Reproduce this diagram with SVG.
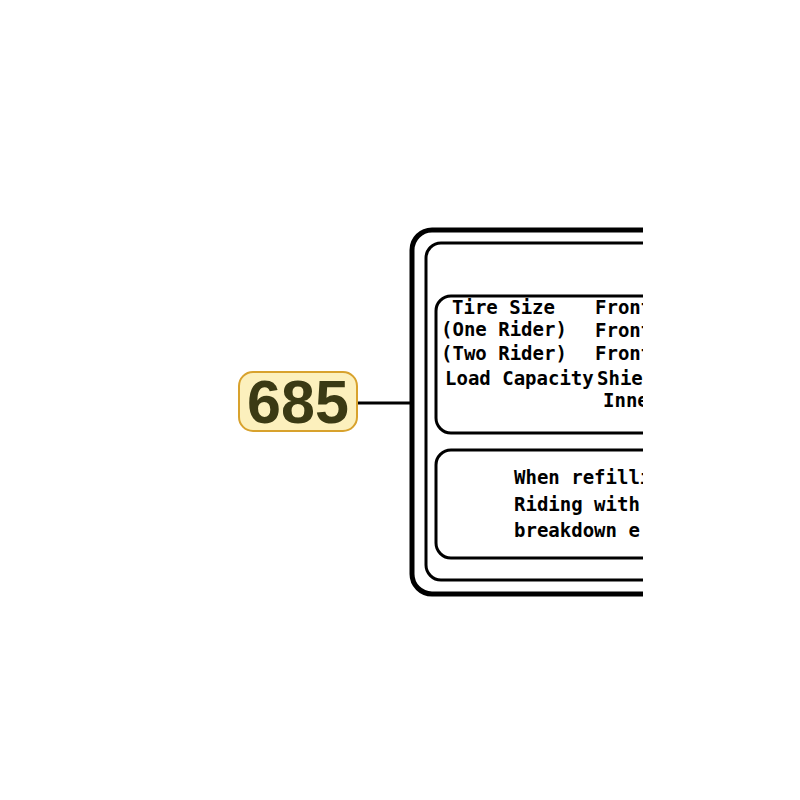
<svg xmlns="http://www.w3.org/2000/svg" width="800" height="800" viewBox="0 0 800 800">
<style>
.t{font-family:"DejaVu Sans Mono","Liberation Mono",monospace;font-size:19px;font-weight:bold;fill:#000}
.f{fill:none;stroke:#000}
</style>
<defs><clipPath id="c"><rect x="0" y="0" width="643" height="800"/></clipPath></defs>
<rect width="800" height="800" fill="#fff"/>
<g id="connectors"><line x1="358" y1="403" x2="411" y2="403" stroke="#000" stroke-width="3"/></g>
<g id="label" clip-path="url(#c)">
<rect class="f" x="412" y="230" width="400" height="364" rx="20" stroke-width="5"/>
<rect class="f" x="426" y="243" width="380" height="337" rx="15" stroke-width="3"/>
<rect class="f" x="436" y="296" width="360" height="137" rx="15" stroke-width="3"/>
<rect class="f" x="436" y="450" width="360" height="108" rx="15" stroke-width="3"/>
<text class="t" x="452" y="314">Tire Size</text>
<text class="t" x="441" y="336">(One Rider)</text>
<text class="t" x="441" y="360">(Two Rider)</text>
<text class="t" x="445" y="385">Load Capacity</text>
<text class="t" x="595" y="314">Front</text>
<text class="t" x="595" y="337">Front</text>
<text class="t" x="595" y="360">Front</text>
<text class="t" x="597" y="385">Shield</text>
<text class="t" x="603" y="407">Inner</text>
<text class="t" x="514" y="484">When refilling</text>
<text class="t" x="514" y="511">Riding with t</text>
<text class="t" x="514" y="537">breakdown e</text>
</g>
<g id="callout">
<rect x="239" y="372" width="118" height="59" rx="14" fill="#fcf0bd" stroke="#d8a22d" stroke-width="2"/>
<text x="298" y="423" text-anchor="middle" font-family="Liberation Sans,Arial,sans-serif" font-weight="bold" font-size="61" fill="#3b3a14">685</text>
</g>
</svg>
